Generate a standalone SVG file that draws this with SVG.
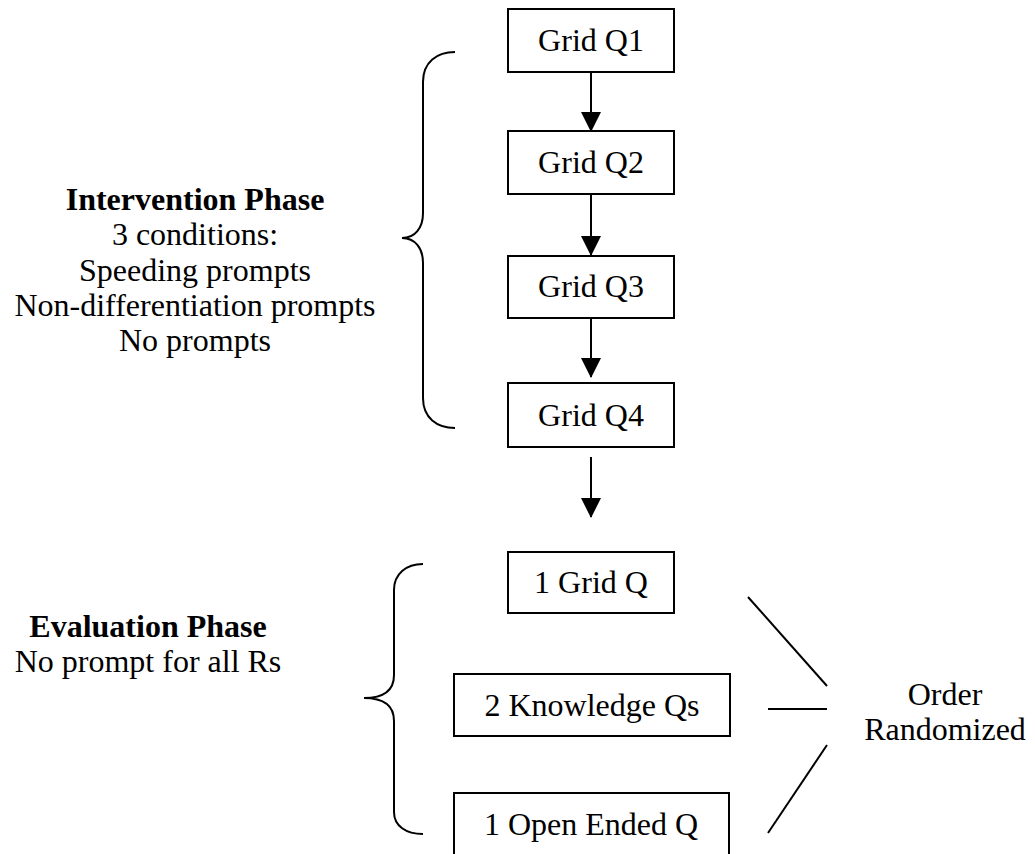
<svg xmlns="http://www.w3.org/2000/svg" width="1035" height="854" viewBox="0 0 1035 854">
<style>
.box{fill:#fff;stroke:#000;stroke-width:2}
.t{font-family:"Liberation Serif","Times New Roman",serif;font-size:32px;fill:#000;text-anchor:middle}
.b{font-weight:bold}
.ln{stroke:#000;stroke-width:2;fill:none}
</style>
<defs>
<marker id="ah" markerUnits="userSpaceOnUse" markerWidth="20" markerHeight="20" refX="19" refY="10" orient="auto">
<path d="M0,0 L20,10 L0,20 z" fill="#000"/>
</marker>
</defs>
<rect width="1035" height="854" fill="#fff"/>
<g id="connectors">
<line class="ln" x1="591" y1="72" x2="591" y2="131" marker-end="url(#ah)"/>
<line class="ln" x1="591" y1="194" x2="591" y2="255" marker-end="url(#ah)"/>
<line class="ln" x1="591" y1="318" x2="591" y2="377" marker-end="url(#ah)"/>
<line class="ln" x1="591" y1="457" x2="591" y2="517" marker-end="url(#ah)"/>
<line class="ln" x1="748" y1="597" x2="827" y2="686"/>
<line class="ln" x1="768" y1="709" x2="827" y2="709"/>
<line class="ln" x1="768" y1="833" x2="827" y2="745"/>
</g>
<g id="brace-intervention">
<path class="ln" d="M455,52 C437,52 423,62 423,82 L423,213 C423,228 415,238 402,238 C415,238 423,248 423,263 L423,398 C423,418 437,428 455,428"/>
</g>
<g id="brace-evaluation">
<path class="ln" d="M423,564 C406,564 394,574 394,590 L394,675 C394,690 384,698 364,698 C384,698 394,706 394,721 L394,812 C394,826 406,834 423,834"/>
</g>
<g id="label-intervention">
<text class="t b" x="195" y="210">Intervention Phase</text>
<text class="t" x="195" y="245">3 conditions:</text>
<text class="t" x="195" y="281">Speeding prompts</text>
<text class="t" x="195" y="316">Non-differentiation prompts</text>
<text class="t" x="195" y="351">No prompts</text>
</g>
<g id="label-evaluation">
<text class="t b" x="148" y="637">Evaluation Phase</text>
<text class="t" x="148" y="672">No prompt for all Rs</text>
</g>
<g id="gridq1"><rect class="box" x="508" y="9" width="166" height="63"/><text class="t" x="591" y="51">Grid Q1</text></g>
<g id="gridq2"><rect class="box" x="508" y="131" width="166" height="63"/><text class="t" x="591" y="173">Grid Q2</text></g>
<g id="gridq3"><rect class="box" x="508" y="256" width="166" height="62"/><text class="t" x="591" y="297">Grid Q3</text></g>
<g id="gridq4"><rect class="box" x="508" y="383" width="166" height="64"/><text class="t" x="591" y="426">Grid Q4</text></g>
<g id="onegrid"><rect class="box" x="508" y="552" width="166" height="61"/><text class="t" x="591" y="593">1 Grid Q</text></g>
<g id="knowledge"><rect class="box" x="454" y="674" width="276" height="62"/><text class="t" x="592" y="716">2 Knowledge Qs</text></g>
<g id="openended"><rect class="box" x="454" y="793" width="275" height="70"/><text class="t" x="591" y="835">1 Open Ended Q</text></g>
<g id="order"><text class="t" x="945" y="705">Order</text><text class="t" x="945" y="740">Randomized</text></g>
</svg>
